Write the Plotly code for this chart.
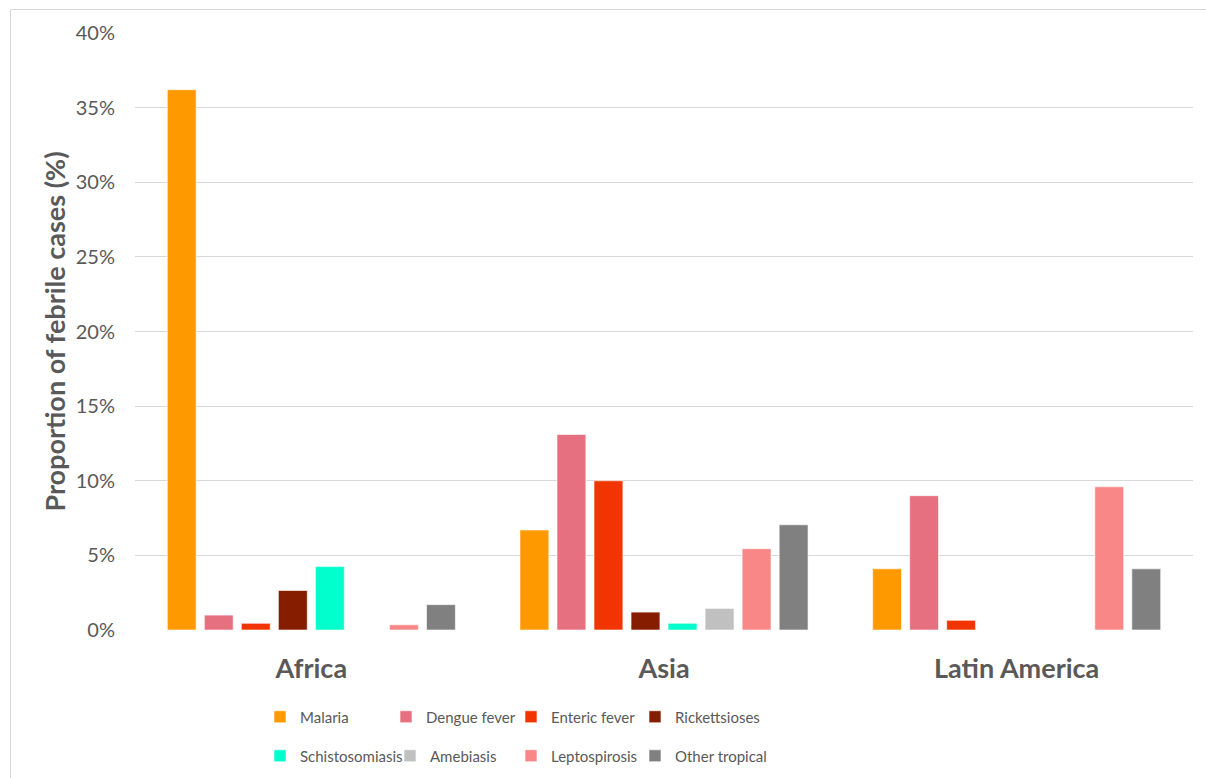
import plotly.graph_objects as go

regions = ["Africa", "Asia", "Latin America"]
diseases = ["Malaria", "Dengue fever", "Enteric fever", "Rickettsioses",
            "Schistosomiasis", "Amebiasis", "Leptospirosis", "Other tropical"]
malaria = [36.2, 6.7, 4.1]
dengue = [1.0, 13.1, 9.0]
enteric = [0.45, 10.0, 0.65]
rickettsioses = [2.65, 1.2, 0.0]
schistosomiasis = [4.25, 0.45, 0.0]
amebiasis = [0.0, 1.45, 0.0]
leptospirosis = [0.35, 5.45, 9.6]
other_tropical = [1.7, 7.05, 4.1]
series = [malaria, dengue, enteric, rickettsioses, schistosomiasis,
          amebiasis, leptospirosis, other_tropical]
colors = ["#FF9900", "#E6707F", "#F23500", "#861D00", "#00FFCC",
          "#C0C0C0", "#FA8787", "#808080"]
y_ticks = [0, 5, 10, 15, 20, 25, 30, 35, 40]

FONT = "Lato"
GRAY = "#595959"

W, H = 1206, 778
ml, mr, mt, mb = 135, 13, 33, 148
pw, ph = W - ml - mr, H - mt - mb


def px(x):
    return (x - ml) / pw


def py(y):
    return (H - mb - y) / ph


# legend slot (marker centre x, row centre y) for each entry
leg_x = [280, 406, 531, 655, 280, 410, 531, 655]
leg_y = [717, 717, 717, 717, 756, 756, 756, 756]

fig = go.Figure()
legends = {}
for i, (name, vals, col) in enumerate(zip(diseases, series, colors)):
    key = "legend" if i == 0 else f"legend{i + 1}"
    fig.add_trace(go.Bar(
        x=regions, y=[v / 100 for v in vals], name=name, showlegend=True,
        marker=dict(color=col, line=dict(color="rgba(255,255,255,0.6)", width=1)),
        legend=key,
    ))
    legends[key] = dict(
        x=px(leg_x[i] - 20), y=py(leg_y[i]), xanchor="left", yanchor="middle",
        orientation="v", font=dict(family=FONT, size=15, color=GRAY),
        bgcolor="rgba(0,0,0,0)", itemclick=False, visible=True,
        entrywidth=140, entrywidthmode="pixels",
    )

fig.update_layout(
    width=W, height=H,
    showlegend=True,
    margin=dict(l=ml, r=mr, t=mt, b=mb, autoexpand=False),
    paper_bgcolor="white", plot_bgcolor="white",
    barmode="group", bargap=0.16, bargroupgap=0.22,
    font=dict(family=FONT, color=GRAY),
    xaxis=dict(
        showgrid=False, showline=False, ticks="",
        tickfont=dict(family=FONT, size=27, color=GRAY, weight="bold"),
        ticklabelstandoff=20,
    ),
    yaxis=dict(
        range=[0, 0.4], tickvals=[t / 100 for t in y_ticks], tickformat=".0%",
        showgrid=True, gridcolor="#D9D9D9", gridwidth=1, zeroline=False,
        showline=False, ticks="",
        tickfont=dict(family=FONT, size=20, color=GRAY),
        ticklabelstandoff=19,
        title=dict(text="Proportion of febrile cases (%)",
                   font=dict(family=FONT, size=27, color=GRAY, weight="bold"),
                   standoff=2),
    ),
    shapes=[
        dict(type="line", xref="paper", yref="paper",
             x0=px(10.5), x1=px(1300), y0=py(9.5), y1=py(9.5),
             line=dict(color="#D9D9D9", width=1)),
        dict(type="line", xref="paper", yref="paper",
             x0=px(10.5), x1=px(10.5), y0=py(9.5), y1=py(900),
             line=dict(color="#D9D9D9", width=1)),
    ],
    **legends,
)

fig.write_html("out.html")
